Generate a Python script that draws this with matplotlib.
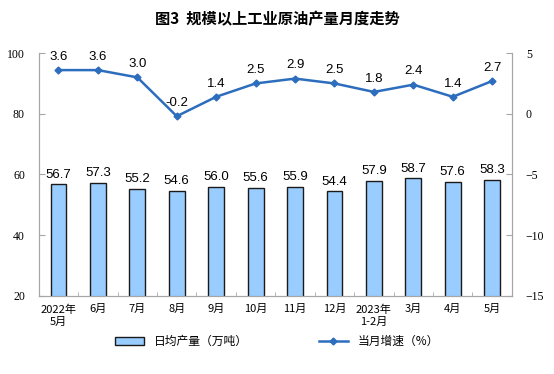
import matplotlib.pyplot as plt
import numpy as np

plt.rcParams['font.family'] = ['Noto Sans CJK SC', 'DejaVu Sans']

# data
months = ["2022年\n5月", "6月", "7月", "8月", "9月", "10月", "11月", "12月",
          "2023年\n1-2月", "3月", "4月", "5月"]
daily_output = [56.7, 57.3, 55.2, 54.6, 56.0, 55.6, 55.9, 54.4, 57.9, 58.7, 57.6, 58.3]
growth = [3.6, 3.6, 3.0, -0.2, 1.4, 2.5, 2.9, 2.5, 1.8, 2.4, 1.4, 2.7]

bar_color = "#99CCFF"
line_color = "#2D6DBE"
grey = "#A6A6A6"

fig = plt.figure(figsize=(5.54, 3.74), dpi=100)
ax = fig.add_axes([0.070, 0.209, 0.854, 0.649])
ax2 = ax.twinx()

x = np.arange(len(months))
ax.bar(x, daily_output, width=0.4, color=bar_color, edgecolor="#1a1a1a", linewidth=1.0,
       label="日均产量（万吨）", zorder=2)
for xi, v in zip(x, daily_output):
    ax.text(xi, v + 1.2, f"{v:.1f}", ha="center", va="bottom", fontsize=9.5,
            family="Liberation Sans")

ax2.plot(x, growth, color=line_color, linewidth=1.8, marker="D", markersize=3.5,
         label="当月增速（%）", zorder=3)
for xi, v in zip(x, growth):
    ax2.text(xi, v + 0.6, f"{v:.1f}", ha="center", va="bottom", fontsize=9.5,
             family="Liberation Sans")

ax.set_xlim(-0.5, len(months) - 0.5)
ax.set_ylim(20, 100)
ax.set_yticks([20, 40, 60, 80, 100])
ax2.set_ylim(-15, 5)
ax2.set_yticks([-15, -10, -5, 0, 5])

ax.set_xticks(x)
ax.set_xticklabels(months, fontsize=8, linespacing=1.3)
ax.set_xticks(np.arange(-0.5, len(months), 1), minor=True)
ax.tick_params(axis="x", which="major", length=0, pad=6)
ax.tick_params(axis="x", which="minor", direction="in", length=3, color=grey)
ax.tick_params(axis="y", direction="in", length=4, color=grey, labelsize=8.5, pad=10)
ax2.tick_params(axis="y", direction="in", length=4, color=grey, labelsize=8.5, pad=10)
for lab in ax.get_yticklabels() + ax2.get_yticklabels():
    lab.set_family("Liberation Serif")

for a in (ax, ax2):
    a.spines["top"].set_visible(False)
    for s in ("left", "right", "bottom"):
        a.spines[s].set_color(grey)

fig.suptitle("图3  规模以上工业原油产量月度走势", x=0.5, y=0.97, fontsize=11,
             fontweight="bold")

h1, l1 = ax.get_legend_handles_labels()
h2, l2 = ax2.get_legend_handles_labels()
fig.legend(h1 + h2, l1 + l2, loc="center", bbox_to_anchor=(0.5, 0.087), ncol=2,
           frameon=False, fontsize=8.5, columnspacing=6, handlelength=2.5)

fig.savefig("out.png", dpi=100)
